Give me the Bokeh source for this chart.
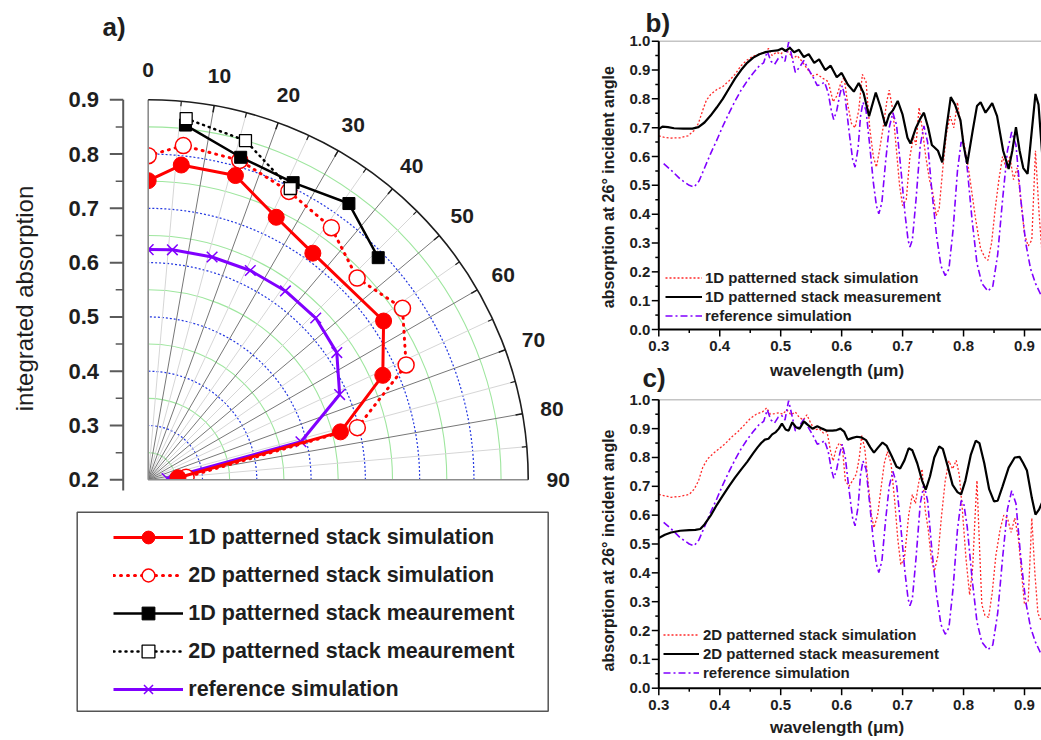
import numpy as np
from bokeh.plotting import figure
from bokeh.models import Range1d, Legend, LegendItem
from bokeh.core.properties import value
from bokeh.embed import file_html
from bokeh.resources import INLINE

FONT = "Liberation Sans"
TXT = "#1e1e1e"

# ---------------- data: panel a) (incidence angle in deg, integrated absorption) -------------
sim1d_angle = [0, 6, 16, 26, 36, 56, 66, 76, 86]
sim1d_absorb = [0.751, 0.783, 0.783, 0.738, 0.716, 0.723, 0.673, 0.565, 0.255]
sim2d_angle = [0, 6, 16, 26, 36, 46, 56, 66, 76, 86]
sim2d_absorb = [0.797, 0.819, 0.812, 0.791, 0.774, 0.735, 0.765, 0.720, 0.597, 0.270]
meas1d_angle = [6, 16, 26, 36, 46]
meas1d_absorb = [0.857, 0.818, 0.809, 0.829, 0.789]
meas2d_angle = [6, 16, 26]
meas2d_absorb = [0.869, 0.850, 0.797]
ref_angle = [0, 6, 16, 26, 36, 46, 56, 66, 76, 86]
ref_absorb = [0.624, 0.626, 0.627, 0.629, 0.630, 0.629, 0.619, 0.586, 0.490, 0.235]

radial_ticks = [0.2, 0.3, 0.4, 0.5, 0.6, 0.7, 0.8, 0.9]
radial_minor = [0.25, 0.35, 0.45, 0.55, 0.65, 0.75, 0.85]
angle_ticks = [0, 10, 20, 30, 40, 50, 60, 70, 80, 90]
angle_minor = [5, 15, 25, 35, 45, 55, 65, 75, 85]

legend_a_labels = ["1D patterned stack simulation", "2D patterned stack simulation",
                   "1D patterned stack meaurement", "2D patterned stack meaurement",
                   "reference simulation"]

# ---------------- data: panels b) and c) (wavelength in um, absorption at 26 deg) ----------
b_meas_wl = [0.300, 0.306, 0.315, 0.325, 0.340, 0.355, 0.365, 0.375, 0.385, 0.395, 0.405, 0.415,
             0.425, 0.435, 0.445, 0.455, 0.465, 0.475, 0.485, 0.495, 0.502, 0.508, 0.515, 0.522,
             0.530, 0.538, 0.546, 0.555, 0.563, 0.573, 0.582, 0.592, 0.600, 0.610, 0.620, 0.628,
             0.636, 0.645, 0.656, 0.664, 0.672, 0.678, 0.684, 0.692, 0.700, 0.708, 0.713, 0.722,
             0.730, 0.735, 0.742, 0.748, 0.752, 0.758, 0.765, 0.772, 0.779, 0.786, 0.795, 0.800,
             0.806, 0.815, 0.822, 0.828, 0.836, 0.842, 0.847, 0.855, 0.865, 0.874, 0.880, 0.886,
             0.892, 0.898, 0.905, 0.912, 0.918, 0.923, 0.930]
b_meas_abs = [0.695, 0.704, 0.702, 0.698, 0.697, 0.697, 0.702, 0.718, 0.742, 0.770, 0.800, 0.835,
              0.870, 0.900, 0.925, 0.943, 0.955, 0.962, 0.966, 0.968, 0.975, 0.966, 0.977, 0.962,
              0.970, 0.945, 0.955, 0.925, 0.937, 0.900, 0.915, 0.875, 0.890, 0.850, 0.825, 0.855,
              0.820, 0.740, 0.822, 0.770, 0.705, 0.745, 0.760, 0.793, 0.745, 0.665, 0.645, 0.700,
              0.735, 0.752, 0.700, 0.640, 0.632, 0.620, 0.580, 0.700, 0.806, 0.780, 0.725, 0.640,
              0.575, 0.690, 0.775, 0.788, 0.752, 0.770, 0.785, 0.740, 0.620, 0.557, 0.620, 0.702,
              0.620, 0.560, 0.540, 0.690, 0.817, 0.780, 0.580]

b_sim_wl = [0.300, 0.308, 0.320, 0.335, 0.348, 0.358, 0.365, 0.372, 0.378, 0.385, 0.395, 0.405,
            0.415, 0.425, 0.435, 0.445, 0.455, 0.465, 0.475, 0.480, 0.486, 0.493, 0.500, 0.507,
            0.514, 0.520, 0.527, 0.535, 0.545, 0.552, 0.560, 0.570, 0.578, 0.586, 0.592, 0.598,
            0.604, 0.610, 0.616, 0.622, 0.628, 0.634, 0.640, 0.646, 0.652, 0.657, 0.662, 0.668,
            0.674, 0.678, 0.684, 0.690, 0.695, 0.700, 0.706, 0.712, 0.718, 0.722, 0.727, 0.732,
            0.738, 0.744, 0.750, 0.755, 0.760, 0.766, 0.772, 0.778, 0.784, 0.790, 0.796, 0.802,
            0.808, 0.814, 0.820, 0.828, 0.835, 0.840, 0.846, 0.852, 0.858, 0.864, 0.870, 0.876,
            0.882, 0.888, 0.894, 0.900, 0.906, 0.912, 0.918, 0.924, 0.930]
b_sim_abs = [0.672, 0.667, 0.664, 0.665, 0.672, 0.690, 0.715, 0.760, 0.795, 0.815, 0.832, 0.843,
             0.862, 0.885, 0.915, 0.935, 0.948, 0.955, 0.962, 0.975, 0.950, 0.962, 0.955, 0.970,
             0.960, 0.940, 0.950, 0.930, 0.900, 0.880, 0.885, 0.870, 0.860, 0.790, 0.810, 0.850,
             0.875, 0.780, 0.715, 0.700, 0.760, 0.885, 0.860, 0.700, 0.600, 0.563, 0.620, 0.700,
             0.790, 0.830, 0.760, 0.620, 0.500, 0.430, 0.450, 0.600, 0.670, 0.640, 0.770, 0.700,
             0.600, 0.520, 0.470, 0.395, 0.420, 0.560, 0.680, 0.740, 0.700, 0.788, 0.700, 0.630,
             0.560, 0.470, 0.380, 0.280, 0.250, 0.240, 0.300, 0.420, 0.520, 0.600, 0.560, 0.600,
             0.520, 0.560, 0.450, 0.330, 0.290, 0.310, 0.620, 0.400, 0.230]

ref_wl = [0.308, 0.320, 0.335, 0.350, 0.358, 0.366, 0.375, 0.385, 0.395, 0.405, 0.415, 0.425,
          0.435, 0.445, 0.455, 0.465, 0.472, 0.478, 0.484, 0.490, 0.496, 0.502, 0.507, 0.513,
          0.518, 0.524, 0.531, 0.538, 0.545, 0.552, 0.560, 0.566, 0.572, 0.578, 0.583, 0.587,
          0.592, 0.597, 0.601, 0.606, 0.612, 0.618, 0.622, 0.627, 0.631, 0.635, 0.640, 0.646,
          0.652, 0.657, 0.661, 0.666, 0.672, 0.678, 0.684, 0.690, 0.697, 0.704, 0.709, 0.712,
          0.716, 0.722, 0.729, 0.735, 0.741, 0.748, 0.756, 0.763, 0.770, 0.776, 0.783, 0.790,
          0.796, 0.800, 0.806, 0.814, 0.822, 0.830, 0.840, 0.848, 0.856, 0.864, 0.872, 0.879,
          0.886, 0.894, 0.902, 0.910, 0.918, 0.928]
ref_abs = [0.575, 0.553, 0.522, 0.500, 0.494, 0.515, 0.560, 0.610, 0.656, 0.705, 0.750, 0.792,
           0.830, 0.862, 0.890, 0.915, 0.925, 0.965, 0.930, 0.920, 0.940, 0.945, 0.930, 0.997,
           0.950, 0.892, 0.910, 0.933, 0.905, 0.880, 0.846, 0.850, 0.858, 0.820, 0.760, 0.728,
           0.760, 0.815, 0.846, 0.800, 0.690, 0.590, 0.563, 0.630, 0.740, 0.788, 0.760, 0.640,
           0.510, 0.430, 0.401, 0.440, 0.580, 0.700, 0.752, 0.710, 0.560, 0.400, 0.310, 0.286,
           0.310, 0.450, 0.640, 0.706, 0.650, 0.480, 0.320, 0.220, 0.187, 0.210, 0.350, 0.550,
           0.650, 0.645, 0.560, 0.380, 0.230, 0.160, 0.133, 0.150, 0.260, 0.450, 0.620, 0.685,
           0.640, 0.450, 0.300, 0.210, 0.160, 0.115]

c_meas_wl = [0.300, 0.310, 0.320, 0.335, 0.350, 0.360, 0.368, 0.375, 0.385, 0.395, 0.405, 0.415,
             0.425, 0.435, 0.445, 0.455, 0.462, 0.468, 0.474, 0.480, 0.486, 0.492, 0.497, 0.502,
             0.508, 0.513, 0.519, 0.525, 0.531, 0.538, 0.545, 0.552, 0.560, 0.568, 0.576, 0.585,
             0.592, 0.598, 0.604, 0.610, 0.618, 0.625, 0.632, 0.640, 0.647, 0.653, 0.660, 0.667,
             0.674, 0.682, 0.690, 0.696, 0.703, 0.710, 0.716, 0.724, 0.732, 0.738, 0.745, 0.752,
             0.760, 0.766, 0.774, 0.782, 0.790, 0.796, 0.803, 0.812, 0.820, 0.826, 0.834, 0.842,
             0.850, 0.856, 0.864, 0.874, 0.884, 0.892, 0.898, 0.904, 0.912, 0.918, 0.924, 0.930]
c_meas_abs = [0.521, 0.532, 0.540, 0.546, 0.548, 0.549, 0.552, 0.568, 0.598, 0.635, 0.668, 0.700,
              0.730, 0.758, 0.785, 0.815, 0.835, 0.850, 0.862, 0.865, 0.880, 0.888, 0.900, 0.918,
              0.897, 0.893, 0.922, 0.905, 0.900, 0.925, 0.912, 0.900, 0.908, 0.900, 0.893, 0.893,
              0.895, 0.900, 0.890, 0.862, 0.868, 0.872, 0.870, 0.860, 0.835, 0.817, 0.835, 0.852,
              0.840, 0.805, 0.768, 0.762, 0.790, 0.832, 0.825, 0.780, 0.720, 0.688, 0.735, 0.800,
              0.838, 0.830, 0.770, 0.705, 0.680, 0.672, 0.720, 0.810, 0.858, 0.850, 0.780, 0.690,
              0.648, 0.650, 0.700, 0.765, 0.800, 0.802, 0.780, 0.755, 0.660, 0.602, 0.620, 0.650]

c_sim_wl = [0.300, 0.308, 0.320, 0.335, 0.350, 0.358, 0.365, 0.372, 0.380, 0.390, 0.400, 0.410,
            0.420, 0.430, 0.440, 0.450, 0.460, 0.470, 0.477, 0.483, 0.490, 0.497, 0.503, 0.510,
            0.517, 0.524, 0.530, 0.537, 0.543, 0.549, 0.556, 0.563, 0.570, 0.576, 0.582, 0.586,
            0.591, 0.596, 0.601, 0.606, 0.612, 0.618, 0.624, 0.629, 0.633, 0.638, 0.644, 0.649,
            0.653, 0.659, 0.665, 0.670, 0.675, 0.681, 0.687, 0.692, 0.697, 0.703, 0.710, 0.716,
            0.721, 0.727, 0.732, 0.737, 0.742, 0.747, 0.752, 0.758, 0.764, 0.770, 0.776, 0.782,
            0.788, 0.793, 0.798, 0.804, 0.810, 0.815, 0.819, 0.822, 0.826, 0.830, 0.835, 0.841,
            0.847, 0.853, 0.860, 0.866, 0.872, 0.878, 0.884, 0.890, 0.896, 0.900, 0.906, 0.912,
            0.917, 0.922, 0.928]
c_sim_abs = [0.672, 0.668, 0.662, 0.665, 0.672, 0.690, 0.718, 0.765, 0.795, 0.815, 0.832, 0.850,
             0.872, 0.890, 0.912, 0.935, 0.950, 0.958, 0.972, 0.950, 0.952, 0.955, 0.950, 0.965,
             0.948, 0.958, 0.940, 0.930, 0.948, 0.920, 0.895, 0.900, 0.885, 0.890, 0.820, 0.788,
             0.830, 0.850, 0.840, 0.720, 0.700, 0.720, 0.742, 0.800, 0.876, 0.830, 0.700, 0.600,
             0.556, 0.600, 0.700, 0.780, 0.820, 0.780, 0.650, 0.520, 0.428, 0.450, 0.600, 0.672,
             0.640, 0.720, 0.760, 0.620, 0.550, 0.450, 0.405, 0.460, 0.600, 0.720, 0.788, 0.760,
             0.790, 0.740, 0.620, 0.450, 0.323, 0.420, 0.600, 0.720, 0.500, 0.290, 0.253, 0.245,
             0.330, 0.460, 0.550, 0.600, 0.590, 0.540, 0.590, 0.520, 0.380, 0.290, 0.300, 0.590,
             0.400, 0.260, 0.230]

wl_ticks = [0.3, 0.4, 0.5, 0.6, 0.7, 0.8, 0.9]
wl_minor = [0.35, 0.45, 0.55, 0.65, 0.75, 0.85]
abs_ticks = [0.0, 0.1, 0.2, 0.3, 0.4, 0.5, 0.6, 0.7, 0.8, 0.9, 1.0]
abs_minor = [0.05, 0.15, 0.25, 0.35, 0.45, 0.55, 0.65, 0.75, 0.85, 0.95]

b_labels = ["1D patterned stack simulation", "1D patterned stack measurement", "reference simulation"]
c_labels = ["2D patterned stack simulation", "2D patterned stack measurement", "reference simulation"]

RED = "#ff0000"
PURPLE = "#8000ff"

# ============================ canvas ============================
W, H = 1041, 740


def pg(y):
    """page y (from the top) -> canvas y (from the bottom)"""
    return H - y


def txt(size, bold=True, **kw):
    d = dict(text_font=value(FONT), text_font_size=size,
             text_font_style="bold" if bold else "normal", text_color=TXT)
    d.update(kw)
    return d


p = figure(width=W, height=H, x_range=Range1d(0, W), y_range=Range1d(0, H),
           output_backend="svg", toolbar_location=None, x_axis_location=None,
           y_axis_location=None, min_border_left=0, min_border_right=0, min_border_top=0,
           min_border_bottom=0, outline_line_color=None, background_fill_color="white")
p.grid.visible = False

# ---- scales of each panel ----
R0 = 0.2          # absorption value at the polar origin
RMAX = 0.9        # absorption value at the outer arc
PPU = 542.9       # px per absorption unit (panel a)
OX, OY = 147.7, 479.3   # page position of the polar origin

BX0, WPPU = 658.3, 609.5      # page x of 0.3 um, px per um (panels b, c)
B0, BPPU = 329.0, 288.3       # page y of A=0 and px per unit (panel b)
C0, CPPU = 687.7, 288.4       # page y of A=0 and px per unit (panel c)

p.extra_x_ranges = {
    "ax": Range1d(-OX / PPU, (W - OX) / PPU),
    "bx": Range1d(0.3 - BX0 / WPPU, 0.3 + (W - BX0) / WPPU),
}
p.extra_y_ranges = {
    "ay": Range1d(R0 - (H - OY) / PPU, R0 + OY / PPU),
    "by": Range1d(-(H - B0) / BPPU, B0 / BPPU),
    "cy": Range1d(-(H - C0) / CPPU, C0 / CPPU),
}
PA = dict(x_range_name="ax", y_range_name="ay")


def ay_of(page_y):
    return R0 + (OY - page_y) / PPU


def to_xy(ang, val):
    t = np.radians(np.asarray(ang, dtype=float))
    r = np.asarray(val, dtype=float) - R0
    return r * np.sin(t), R0 + r * np.cos(t)


# ============================ panel a) polar plot ============================
span = RMAX - R0
green_r = [round(v - R0, 4) for v in radial_minor]
blue_r = [round(v - R0, 4) for v in radial_ticks[1:-1]]
p.arc(x=[0] * len(green_r), y=[R0] * len(green_r), radius=green_r, start_angle=0,
      end_angle=np.pi / 2, line_color="#9ee69e", line_width=1.1, **PA)
p.arc(x=[0] * len(blue_r), y=[R0] * len(blue_r), radius=blue_r, start_angle=0,
      end_angle=np.pi / 2, line_color="#2438e0", line_width=1.2, line_dash="2 2", **PA)

tmin = np.radians(angle_minor)
p.segment(x0=0, y0=R0, x1=span * np.sin(tmin), y1=R0 + span * np.cos(tmin),
          line_color="#d6d6d6", line_width=1, **PA)
tmaj = np.radians(angle_ticks[1:-1])
p.segment(x0=0, y0=R0, x1=span * np.sin(tmaj), y1=R0 + span * np.cos(tmaj),
          line_color="#777777", line_width=1, **PA)

x, y = to_xy(ref_angle, ref_absorb)
a_ref_l = p.line(x, y, line_color=PURPLE, line_width=3, **PA)
a_ref_m = p.scatter(x, y, marker="x", size=15, line_color=PURPLE, line_width=1.5, **PA)

x, y = to_xy(sim2d_angle, sim2d_absorb)
a_s2_l = p.line(x, y, line_color=RED, line_width=3, line_dash="1 6", line_cap="round", **PA)
a_s2_m = p.scatter(x, y, marker="circle", size=16, fill_color="white", line_color=RED,
                   line_width=1.5, **PA)

x, y = to_xy(sim1d_angle, sim1d_absorb)
a_s1_l = p.line(x, y, line_color=RED, line_width=3, **PA)
a_s1_m = p.scatter(x, y, marker="circle", size=16, fill_color=RED, line_color=RED, **PA)

x, y = to_xy(meas1d_angle, meas1d_absorb)
a_m1_l = p.line(x, y, line_color="black", line_width=2.5, **PA)
a_m1_m = p.scatter(x, y, marker="square", size=12, fill_color="black", line_color="black", **PA)

x, y = to_xy(meas2d_angle, meas2d_absorb)
a_m2_l = p.line(x, y, line_color="black", line_width=2.5, line_dash="1 5", line_cap="round", **PA)
a_m2_m = p.scatter(x, y, marker="square", size=12, fill_color="white", line_color="black",
                   line_width=1.3, **PA)

# masks: the polar area is a quarter disc; hide marker parts outside it
p.quad(left=0, right=span + 0.05, bottom=ay_of(500), top=R0, fill_color="white",
       line_color=None, **PA)
p.quad(left=(124 - OX) / PPU, right=0, bottom=ay_of(500), top=ay_of(60), fill_color="white",
       line_color=None, **PA)

# frame edges, outer arc and its ticks
p.segment(x0=[0, 0], y0=[R0, R0], x1=[0, span], y1=[RMAX, R0], line_color="#8c8c8c",
          line_width=1.6, **PA)
p.arc(x=0, y=R0, radius=span, start_angle=0, end_angle=np.pi / 2, line_color="#1e1e1e",
      line_width=1.6, **PA)
p.segment(x0=(span - 7 / PPU) * np.sin(tmaj), y0=R0 + (span - 7 / PPU) * np.cos(tmaj),
          x1=span * np.sin(tmaj), y1=R0 + span * np.cos(tmaj), line_color="#1e1e1e",
          line_width=1.5, **PA)
p.segment(x0=(span - 5 / PPU) * np.sin(tmin), y0=R0 + (span - 5 / PPU) * np.cos(tmin),
          x1=span * np.sin(tmin), y1=R0 + span * np.cos(tmin), line_color="#1e1e1e",
          line_width=1.2, **PA)

# angle labels
tl = np.radians(angle_ticks)
rl = 410 / PPU
p.text(x=rl * np.sin(tl), y=R0 + rl * np.cos(tl), text=[str(a) for a in angle_ticks],
       text_align="center", text_baseline="middle", **txt("21px"), **PA)

# radial (left) axis, 13px outward major ticks, 7px minor ticks
AXX = 122.7
p.segment(x0=AXX, y0=ay_of(490), x1=AXX, y1=RMAX, line_color="#5a5a5a", line_width=2,
          y_range_name="ay")
p.segment(x0=AXX - 13.4, y0=radial_ticks, x1=AXX, y1=radial_ticks, line_color="#5a5a5a",
          line_width=2, y_range_name="ay")
p.segment(x0=AXX - 7.5, y0=radial_minor, x1=AXX, y1=radial_minor, line_color="#5a5a5a",
          line_width=1.5, y_range_name="ay")
p.text(x=98.5, y=radial_ticks, text=["%.1f" % v for v in radial_ticks], text_align="right",
       text_baseline="middle", y_range_name="ay", **txt("22px"))
p.text(x=[24], y=[pg(298)], text=["integrated absorption"], angle=np.pi / 2,
       text_align="center", text_baseline="middle", **txt("24px", bold=False))
p.text(x=[102], y=[pg(26)], text=["a)"], text_align="left", text_baseline="middle",
       **txt("26px"))

# legend box of panel a)
p.quad(left=76.7, right=547.7, top=pg(511.7), bottom=pg(710.7), fill_color=None,
       line_color="#555555", line_width=1.5)
leg_a = Legend(items=[LegendItem(label=legend_a_labels[0], renderers=[a_s1_l, a_s1_m]),
                      LegendItem(label=legend_a_labels[1], renderers=[a_s2_l, a_s2_m]),
                      LegendItem(label=legend_a_labels[2], renderers=[a_m1_l, a_m1_m]),
                      LegendItem(label=legend_a_labels[3], renderers=[a_m2_l, a_m2_m]),
                      LegendItem(label=legend_a_labels[4], renderers=[a_ref_l, a_ref_m])],
               location=(113.3, H - 705.3), orientation="vertical", glyph_width=70,
               glyph_height=32, label_height=32, spacing=6, padding=0, margin=0,
               label_standoff=5, border_line_color=None, background_fill_alpha=0,
               label_text_font=FONT, label_text_font_size="21.5px",
               label_text_font_style="bold", label_text_color=TXT)
p.add_layout(leg_a)


# ============================ panels b) and c) ============================
def spectrum(yname, ppu_y, sim_wl, sim_abs, meas_wl, meas_abs, labels, leg_loc, leg_glyph,
             leg_standoff, xtitle_y, ytitle_y, tag, tag_x, tag_y):
    R = dict(x_range_name="bx", y_range_name=yname)
    xend = 0.3 + (W - BX0) / WPPU
    p.segment(x0=0.3, y0=1.0, x1=xend, y1=1.0, line_color="#c4c4c4", line_width=1.5, **R)
    rs = p.line(sim_wl, sim_abs, line_color="#ff2a2a", line_width=1.3, line_dash="2 2", **R)
    rr = p.line(ref_wl, ref_abs, line_color=PURPLE, line_width=1.6, line_dash="7 3 2 3", **R)
    rm = p.line(meas_wl, meas_abs, line_color="black", line_width=2.2, **R)

    # axes lines
    p.segment(x0=0.3, y0=0, x1=0.3, y1=1.0, line_color="black", line_width=2, **R)
    p.segment(x0=0.3, y0=0, x1=xend, y1=0, line_color="black", line_width=2, **R)
    # y ticks and labels
    p.segment(x0=0.3 - 7 / WPPU, y0=abs_ticks, x1=0.3, y1=abs_ticks, line_color="black",
              line_width=1.5, **R)
    p.segment(x0=0.3 - 3.5 / WPPU, y0=abs_minor, x1=0.3, y1=abs_minor, line_color="black",
              line_width=1.5, **R)
    p.text(x=0.3 - 8.5 / WPPU, y=abs_ticks, text=["%.1f" % v for v in abs_ticks],
           text_align="right", text_baseline="middle", **txt("15px"), **R)
    # x ticks and labels
    p.segment(x0=wl_ticks, y0=0, x1=wl_ticks, y1=-7 / ppu_y, line_color="black",
              line_width=1.5, **R)
    p.segment(x0=wl_minor, y0=0, x1=wl_minor, y1=-3.5 / ppu_y, line_color="black",
              line_width=1.5, **R)
    p.text(x=wl_ticks, y=-16.5 / ppu_y, text=["%.1f" % v for v in wl_ticks],
           text_align="center", text_baseline="middle", **txt("15px"), **R)
    # titles
    p.text(x=[836.5], y=[pg(xtitle_y)], text=["wavelength (μm)"], text_align="center",
           text_baseline="middle", **txt("17px"))
    p.text(x=[608.3], y=[pg(ytitle_y)], text=["absorption at 26° incident angle"],
           angle=np.pi / 2, text_align="center", text_baseline="middle", **txt("16px"))
    p.text(x=[tag_x], y=[pg(tag_y)], text=[tag], text_align="left", text_baseline="middle",
           **txt("26px"))

    leg = Legend(items=[LegendItem(label=labels[0], renderers=[rs]),
                        LegendItem(label=labels[1], renderers=[rm]),
                        LegendItem(label=labels[2], renderers=[rr])],
                 location=leg_loc, glyph_width=leg_glyph, glyph_height=19, label_height=19,
                 spacing=0, padding=0, margin=0, label_standoff=leg_standoff,
                 border_line_color=None, background_fill_alpha=0,
                 label_text_font=FONT, label_text_font_size="15px",
                 label_text_font_style="bold", label_text_color=TXT)
    p.add_layout(leg)


spectrum("by", BPPU, b_sim_wl, b_sim_abs, b_meas_wl, b_meas_abs, b_labels,
         (665, H - 324.5), 37, 3, 370, 186.7, "b)", 645, 22.5)
spectrum("cy", CPPU, c_sim_wl, c_sim_abs, c_meas_wl, c_meas_abs, c_labels,
         (663, H - 682.2), 36, 4, 726.7, 550, "c)", 642, 377)

open("out.html", "w").write(file_html(p, INLINE))
